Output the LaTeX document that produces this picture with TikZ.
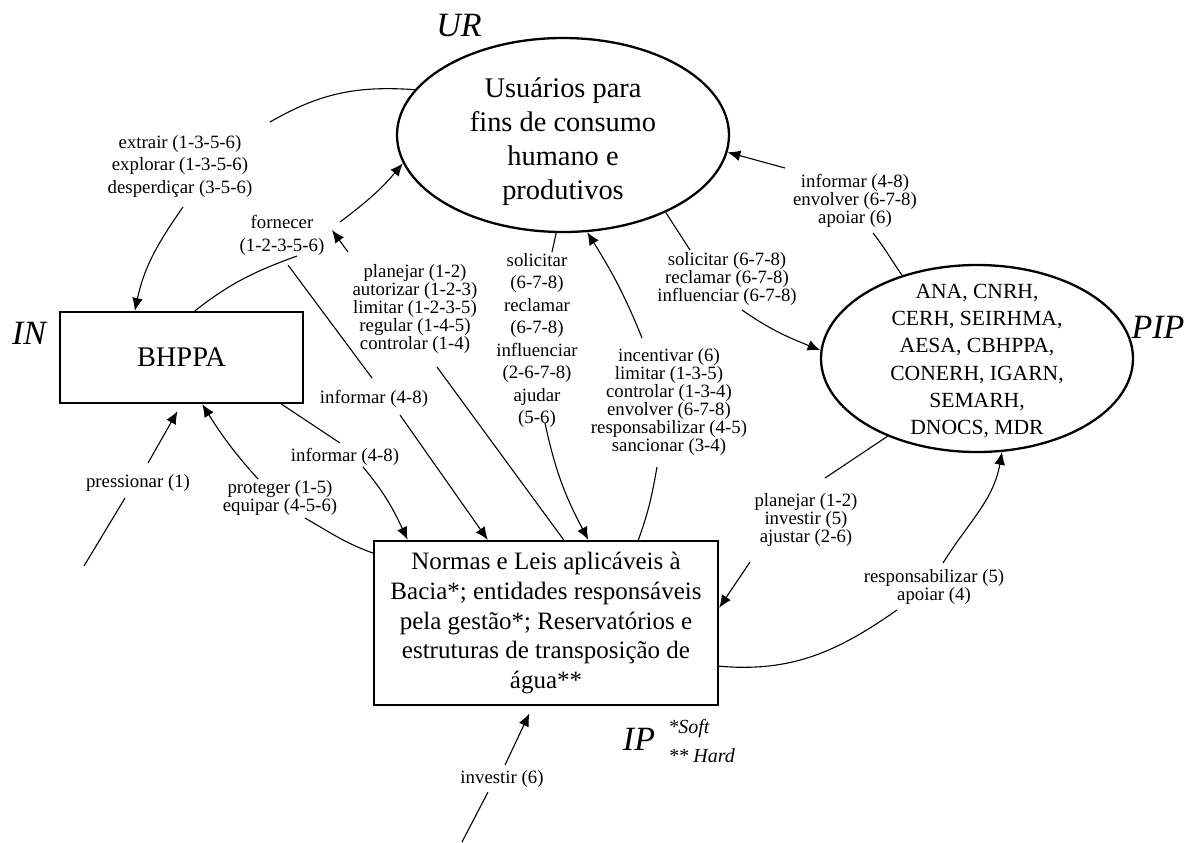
\documentclass[tikz,border=0pt]{standalone}
\usepackage{fontspec}
\setmainfont{Liberation Serif}
\usetikzlibrary{arrows.meta,shapes.geometric}

\begin{document}
\begin{tikzpicture}[x=0.5pt,y=-0.5pt,
  conn/.style={line width=0.55pt},
  arr/.style={conn,-{Latex[length=6.4pt,width=5.4pt]}},
  lbl/.style={align=center,inner sep=0pt,font=\fontsize{9.4}{9}\selectfont},
  lblw/.style={align=center,inner sep=0pt,font=\fontsize{9.4}{11.25}\selectfont},
  tag/.style={font=\fontsize{17}{17}\selectfont\itshape,inner sep=0pt},
  note/.style={font=\fontsize{10}{10}\selectfont\itshape,inner sep=0pt,anchor=west},
  box/.style={draw,line width=1.15pt,rectangle,inner sep=0pt,align=center},
  oval/.style={draw,line width=1.15pt,ellipse,inner sep=0pt}]

\useasboundingbox (0,0) rectangle (1184,842);

% main entities
\node[oval,minimum width=166pt,minimum height=97pt] (UR) at (563,135) {};
\node[align=center,inner sep=0pt,font=\fontsize{14.2}{17}\selectfont] (URt) at (563,142)
  {Usuários para\\fins de consumo\\humano e\\produtivos};

\node[oval,minimum width=156pt,minimum height=93.5pt] (PIP) at (977,358.5) {};
\node[align=center,inner sep=0pt,font=\fontsize{10.8}{13.7}\selectfont] (PIPt) at (977,361)
  {ANA, CNRH,\\CERH, SEIRHMA,\\AESA, CBHPPA,\\CONERH, IGARN,\\SEMARH,\\DNOCS, MDR};

\node[box,minimum width=121.5pt,minimum height=45.5pt,font=\fontsize{14.2}{17}\selectfont] (BH) at (181.5,357.5) {BHPPA};

\node[box,minimum width=172pt,minimum height=82pt,font=\fontsize{12.5}{14.9}\selectfont] (NL) at (546,623)
  {Normas e Leis aplicáveis à\\Bacia*; entidades responsáveis\\pela gestão*; Reservatórios e\\estruturas de transposição de\\água**};

% component tags
\node[tag] (tUR) at (459,26) {UR};
\node[tag] (tIN) at (29,333) {IN};
\node[tag] (tPIP) at (1158,327) {PIP};
\node[tag] (tIP) at (639,739) {IP};
\node[note] (nSoft) at (668,729) {*Soft};
\node[note] (nHard) at (668,756) {** Hard};

% link labels
\node[lblw] (Lext) at (180,166) {extrair (1-3-5-6)\\explorar (1-3-5-6)\\desperdiçar (3-5-6)};
\node[lblw] (Lfor) at (282,235.5) {fornecer\\(1-2-3-5-6)};
\node[lbl] (Lpla) at (415,309) {planejar (1-2)\\autorizar (1-2-3)\\limitar (1-2-3-5)\\regular (1-4-5)\\controlar (1-4)};
\node[lblw] (Lsol) at (537,340.5) {solicitar\\(6-7-8)\\reclamar\\(6-7-8)\\influenciar\\(2-6-7-8)\\ajudar\\(5-6)};
\node[lbl] (Linf1) at (374,399) {informar (4-8)};
\node[lbl] (Linf2) at (345,457) {informar (4-8)};
\node[lbl] (Lpre) at (138,483) {pressionar (1)};
\node[lbl] (Lpro) at (280,498) {proteger (1-5)\\equipar (4-5-6)};
\node[lbl] (Lsol2) at (727,278.5) {solicitar (6-7-8)\\reclamar (6-7-8)\\influenciar (6-7-8)};
\node[lbl] (Linf3) at (855,201) {informar (4-8)\\envolver (6-7-8)\\apoiar (6)};
\node[lbl] (Linc) at (669,402) {incentivar (6)\\limitar (1-3-5)\\controlar (1-3-4)\\envolver (6-7-8)\\responsabilizar (4-5)\\sancionar (3-4)};
\node[lbl] (Lpla2) at (806,519.5) {planejar (1-2)\\investir (5)\\ajustar (2-6)};
\node[lbl] (Lres) at (934,586.5) {responsabilizar (5)\\apoiar (4)};
\node[lbl] (Linv) at (502,779) {investir (6)};

% break points where connectors stop around their labels
\coordinate (a1) at (270,122);  \coordinate (a2) at (183,207);
\coordinate (b1) at (297,256);  \coordinate (b2) at (340,222);
\coordinate (c0) at (332,230);  \coordinate (c1) at (437,367);  \coordinate (c2) at (348,252);
\coordinate (d0) at (288,265);  \coordinate (d1) at (372,378);  \coordinate (d2) at (400,415);
\coordinate (e1) at (340,443);  \coordinate (e2) at (363,467);
\coordinate (f1) at (552,252);  \coordinate (f2) at (545,423);
\coordinate (g1) at (657,467);  \coordinate (g2) at (642,338);
\coordinate (h1) at (690,250);  \coordinate (h2) at (742,310);
\coordinate (i1) at (873,233);  \coordinate (i2) at (785,168);
\coordinate (j1) at (825,478);  \coordinate (j2) at (750,562);
\coordinate (k1) at (897,610);  \coordinate (k2) at (943,563);
\coordinate (l1) at (305,518);  \coordinate (l2) at (258,479);
\coordinate (m0) at (84,566);   \coordinate (m1) at (125,498);  \coordinate (m2) at (148,463);
\coordinate (n0) at (462,842);  \coordinate (n1) at (488,792);  \coordinate (n2) at (505,765);

% UR -> IN : extrair / explorar / desperdiçar
\draw[conn] (UR.163) to[out=176,in=30] (a1);
\draw[arr] (a2) to[out=235,in=78] (BH.135.6);
% IN -> UR : fornecer
\draw[conn] (BH.74.1) to[out=38,in=200] (b1);
\draw[arr] (b2) to[out=37,in=230] (UR.190);
% IP -> supply link : planejar ... controlar
\draw[conn] (NL.78.4) -- (c1);
\draw[arr] (c2) -- (c0);
% supply link -> IP : informar
\draw[conn] (d0) -- (d1);
\draw[arr] (d2) -- (NL.125.4);
% IN -> IP : informar
\draw[conn] (BH.-25.5) -- (e1);
\draw[arr] (e2) to[out=-50,in=115] (NL.149);
% UR -> IP : solicitar ... ajudar
\draw[conn] (UR.266.5) -- (f1);
\draw[arr] (f2) to[out=-78,in=118] (NL.63.7);
% IP -> UR : incentivar ... sancionar
\draw[conn] (NL.42.4) to[out=70,in=-100] (g1);
\draw[arr] (g2) to[out=112,in=-58] (UR.284.6);
% UR -> PIP : solicitar / reclamar / influenciar
\draw[conn] (UR.323.4) -- (h1);
\draw[arr] (h2) to[out=-35,in=158] (PIP.177);
% PIP -> UR : informar / envolver / apoiar
\draw[conn] (PIP.132) to[out=125,in=-52] (i1);
\draw[arr] (i2) -- (UR.354.6);
% PIP -> IP : planejar / investir / ajustar
\draw[conn] (PIP.221.8) -- (j1);
\draw[arr] (j2) -- (NL.5.6);
% IP -> PIP : responsabilizar / apoiar
\draw[conn] (NL.-14.7) to[out=-5,in=215] (k1);
\draw[arr] (k2) to[out=58,in=-100] (PIP.285.7);
% IP -> IN : proteger / equipar
\draw[conn] (NL.158.1) to[out=160,in=-30] (l1);
\draw[arr] (l2) to[out=132,in=-58] (BH.-66.2);
% external drivers
\draw[conn] (m0) -- (m1);
\draw[arr,shorten >=4pt] (m2) -- (BH.270);
\draw[conn] (n0) -- (n1);
\draw[arr,shorten >=4pt] (n2) -- (NL.261.7);
\end{tikzpicture}
\end{document}
